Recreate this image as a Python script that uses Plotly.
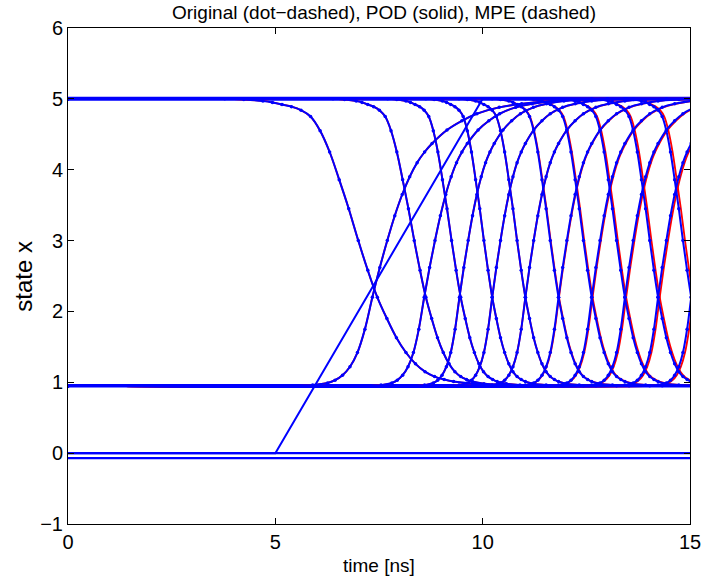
import plotly.graph_objects as go

# ---------------- data ----------------
T_START, T_END = 0.0, 15.0

# input ramp
ramp_t = [0.0, 5.0, 10.0, 15.0]
ramp_y = [0.0, 0.0, 5.0, 5.0]

# constant states
const_levels = [0.0, -0.07]
high_level = 5.0
low_level = 0.95

# falling transition profile (time relative to crossing of y=3)
fall_dt = [-1.4, -1.2, -1.0, -0.9, -0.8, -0.7, -0.6, -0.5, -0.4, -0.3, -0.2, -0.1, 0.0,
           0.1, 0.2, 0.3, 0.4, 0.5, 0.6, 0.7, 0.8, 0.9, 1.0, 1.2, 1.5, 1.9]
fall_y = [5.0, 4.99, 4.97, 4.95, 4.92, 4.89, 4.84, 4.75, 4.55, 4.25, 3.86, 3.45, 3.0,
          2.58, 2.2, 1.9, 1.63, 1.42, 1.26, 1.15, 1.08, 1.04, 1.01, 0.98, 0.96, 0.95]

# rising transition profile (time relative to crossing of y=3)
rise_dt = [-1.2, -1.0, -0.8, -0.7, -0.6, -0.5, -0.4, -0.3, -0.2, -0.1, 0.0, 0.1, 0.2,
           0.3, 0.4, 0.5, 0.6, 0.8, 1.0, 1.2, 1.5, 1.8, 2.2, 2.7, 3.2]
rise_y = [0.95, 0.96, 0.99, 1.03, 1.1, 1.22, 1.42, 1.75, 2.2, 2.62, 3.0, 3.35, 3.65,
          3.9, 4.1, 4.25, 4.37, 4.56, 4.69, 4.79, 4.88, 4.93, 4.97, 4.99, 5.0]

# crossing times (y=3) of each stage and their time stretch
fall_mid = [7.0, 8.35, 9.25, 10.03, 10.83, 11.63, 12.43, 13.23, 14.03, 14.83]
fall_stretch = [2.3, 1.4, 1.1, 1.0, 1.0, 1.0, 1.0, 1.0, 1.0, 1.0]
rise_mid = [7.7, 8.85, 9.65, 10.43, 11.23, 12.03, 12.83, 13.63, 14.43, 15.23]
rise_stretch = [1.8, 1.3, 1.05, 1.0, 1.0, 1.0, 1.0, 1.0, 1.0, 1.0]
# small deviation of the reduced (POD) model for late stages [ns]
pod_shift_fall = [0, 0, 0, 0, 0, 0.01, 0.02, 0.03, 0.04, 0.05]
pod_shift_rise = [0, 0, 0, 0, 0, 0.01, 0.02, 0.03, 0.04, 0.05]

BLUE = "rgb(0,0,255)"
RED = "rgb(255,0,0)"


def stage(mid, stretch, dt, y, shift=0.0):
    t = [T_START] + [mid + shift + stretch * d for d in dt] + [T_END + 1]
    yy = [y[0]] + list(y) + [y[-1]]
    return t, yy


fig = go.Figure()

# static rails (many overlapping states)
for lev, w in [(high_level, 4), (low_level, 3.5)]:
    fig.add_trace(go.Scatter(x=[T_START, T_END], y=[lev, lev], mode="lines",
                             line=dict(color=BLUE, width=w), hoverinfo="skip"))
for lev in const_levels:
    fig.add_trace(go.Scatter(x=[T_START, T_END], y=[lev, lev], mode="lines",
                             line=dict(color=BLUE, width=2.4), hoverinfo="skip"))

# POD (solid red)
for m, s, sh in zip(fall_mid, fall_stretch, pod_shift_fall):
    t, y = stage(m, s, fall_dt, fall_y, sh)
    fig.add_trace(go.Scatter(x=t, y=y, mode="lines", line=dict(color=RED, width=1.8, shape="spline"),
                             hoverinfo="skip"))
for m, s, sh in zip(rise_mid, rise_stretch, pod_shift_rise):
    t, y = stage(m, s, rise_dt, rise_y, sh)
    fig.add_trace(go.Scatter(x=t, y=y, mode="lines", line=dict(color=RED, width=1.8, shape="spline"),
                             hoverinfo="skip"))

# Original / MPE (blue, dotted markers)
for m, s in zip(fall_mid, fall_stretch):
    t, y = stage(m, s, fall_dt, fall_y)
    fig.add_trace(go.Scatter(x=t, y=y, mode="lines+markers",
                             line=dict(color=BLUE, width=2, shape="spline"),
                             marker=dict(color=BLUE, size=3.5), hoverinfo="skip"))
for m, s in zip(rise_mid, rise_stretch):
    t, y = stage(m, s, rise_dt, rise_y)
    fig.add_trace(go.Scatter(x=t, y=y, mode="lines+markers",
                             line=dict(color=BLUE, width=2, shape="spline"),
                             marker=dict(color=BLUE, size=3.5), hoverinfo="skip"))

# input ramp
fig.add_trace(go.Scatter(x=ramp_t, y=ramp_y, mode="lines", line=dict(color=BLUE, width=2),
                         hoverinfo="skip"))

FONT = "Liberation Sans, Arial, sans-serif"
fig.update_layout(
    width=713, height=580,
    margin=dict(l=68, r=13, t=28, b=56),
    paper_bgcolor="white", plot_bgcolor="white",
    showlegend=False,
    font=dict(family=FONT, color="black"),
    title=dict(text="Original (dot\u2212dashed), POD (solid), MPE (dashed)",
               x=(384 / 713), xanchor="center", y=1 - 12 / 580, yanchor="middle",
               yref="container", font=dict(size=19, family=FONT, color="black")),
)
fig.update_xaxes(range=[0, 15], tickvals=[0, 5, 10, 15], ticks="inside", ticklen=6,
                 tickcolor="black", showline=True, linecolor="black", linewidth=1,
                 mirror="ticks", showgrid=False, zeroline=False,
                 tickfont=dict(size=20, family=FONT, color="black"))
fig.update_yaxes(range=[-1, 6], tickvals=[-1, 0, 1, 2, 3, 4, 5, 6], ticks="inside", ticklen=6,
                 tickcolor="black", showline=True, linecolor="black", linewidth=1,
                 mirror="ticks", showgrid=False, zeroline=False,
                 tickfont=dict(size=20, family=FONT, color="black"))
fig.add_annotation(text="time [ns]", xref="paper", yref="paper", x=0.5, y=(524 - 565) / 496,
                   xanchor="center", yanchor="middle", showarrow=False,
                   font=dict(size=19, family=FONT, color="black"))
fig.add_annotation(text="state x", xref="paper", yref="paper", x=(22 - 68) / 632, y=0.5,
                   xanchor="center", yanchor="middle", textangle=-90, showarrow=False,
                   font=dict(size=24, family=FONT, color="black"))

fig.write_html("out.html")
